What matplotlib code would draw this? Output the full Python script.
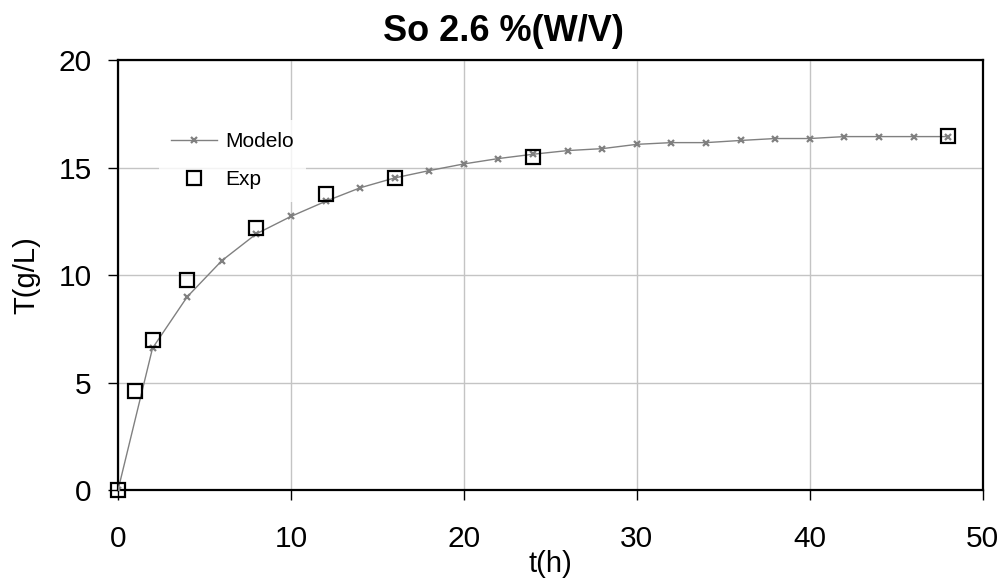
import matplotlib
matplotlib.use("Agg")
import matplotlib.pyplot as plt

plt.rcParams["font.family"] = ["Liberation Sans", "DejaVu Sans"]

# Model curve (every 2 h) and experimental points
t_model = [0, 2, 4, 6, 8, 10, 12, 14, 16, 18, 20, 22, 24, 26, 28, 30,
           32, 34, 36, 38, 40, 42, 44, 46, 48]
T_model = [0.0, 6.61, 8.99, 10.67, 11.92, 12.73, 13.43, 14.06, 14.52, 14.86,
           15.17, 15.42, 15.62, 15.79, 15.88, 16.08, 16.16, 16.16, 16.26,
           16.35, 16.35, 16.44, 16.44, 16.44, 16.44]

t_exp = [0, 1, 2, 4, 8, 12, 16, 24, 48]
T_exp = [0.0, 4.63, 6.97, 9.76, 12.2, 13.78, 14.52, 15.51, 16.47]

x_ticks = [0, 10, 20, 30, 40, 50]
y_ticks = [0, 5, 10, 15, 20]

fig = plt.figure(figsize=(10.08, 5.88), dpi=100, facecolor="white")
ax = fig.add_axes([0.117, 0.166, 0.858, 0.732])

ax.grid(True, color="#c4c4c4", linewidth=1.0, zorder=0)
ax.set_axisbelow(True)

ax.plot(t_model, T_model, color="#808080", linewidth=1.0, marker="x",
        markersize=4, markeredgewidth=1.6, label="Modelo", zorder=3)
ax.plot(t_exp, T_exp, linestyle="none", marker="s", markersize=10,
        markerfacecolor="none", markeredgecolor="black", markeredgewidth=1.6,
        label="Exp", zorder=4, clip_on=False)

ax.set_xlim(0, 50)
ax.set_ylim(0, 20)
ax.set_xticks(x_ticks)
ax.set_yticks(y_ticks)

for side in ("left", "bottom", "top", "right"):
    ax.spines[side].set_linewidth(1.6)
    ax.spines[side].set_color("black")

ax.tick_params(axis="both", direction="out", length=7, width=1.0,
               labelsize=21.5, colors="black")
ax.tick_params(axis="y", pad=12)
ax.tick_params(axis="x", pad=18)

ax.set_xlabel("t(h)", fontsize=21, labelpad=-2)
ax.set_ylabel("T(g/L)", fontsize=21, labelpad=13)
# title is centred on the whole figure, not on the axes
ax.set_title("So 2.6 %(W/V)", fontsize=26, fontweight="bold", pad=14,
             x=0.446)

leg = ax.legend(loc="upper left", bbox_to_anchor=(0.035, 0.885), frameon=True,
                fontsize=15, handlelength=2.2, handletextpad=0.4,
                labelspacing=0.9, borderpad=0.6)
leg.get_frame().set_facecolor("white")
leg.get_frame().set_edgecolor("none")

fig.savefig("out.png", dpi=100, facecolor="white")
